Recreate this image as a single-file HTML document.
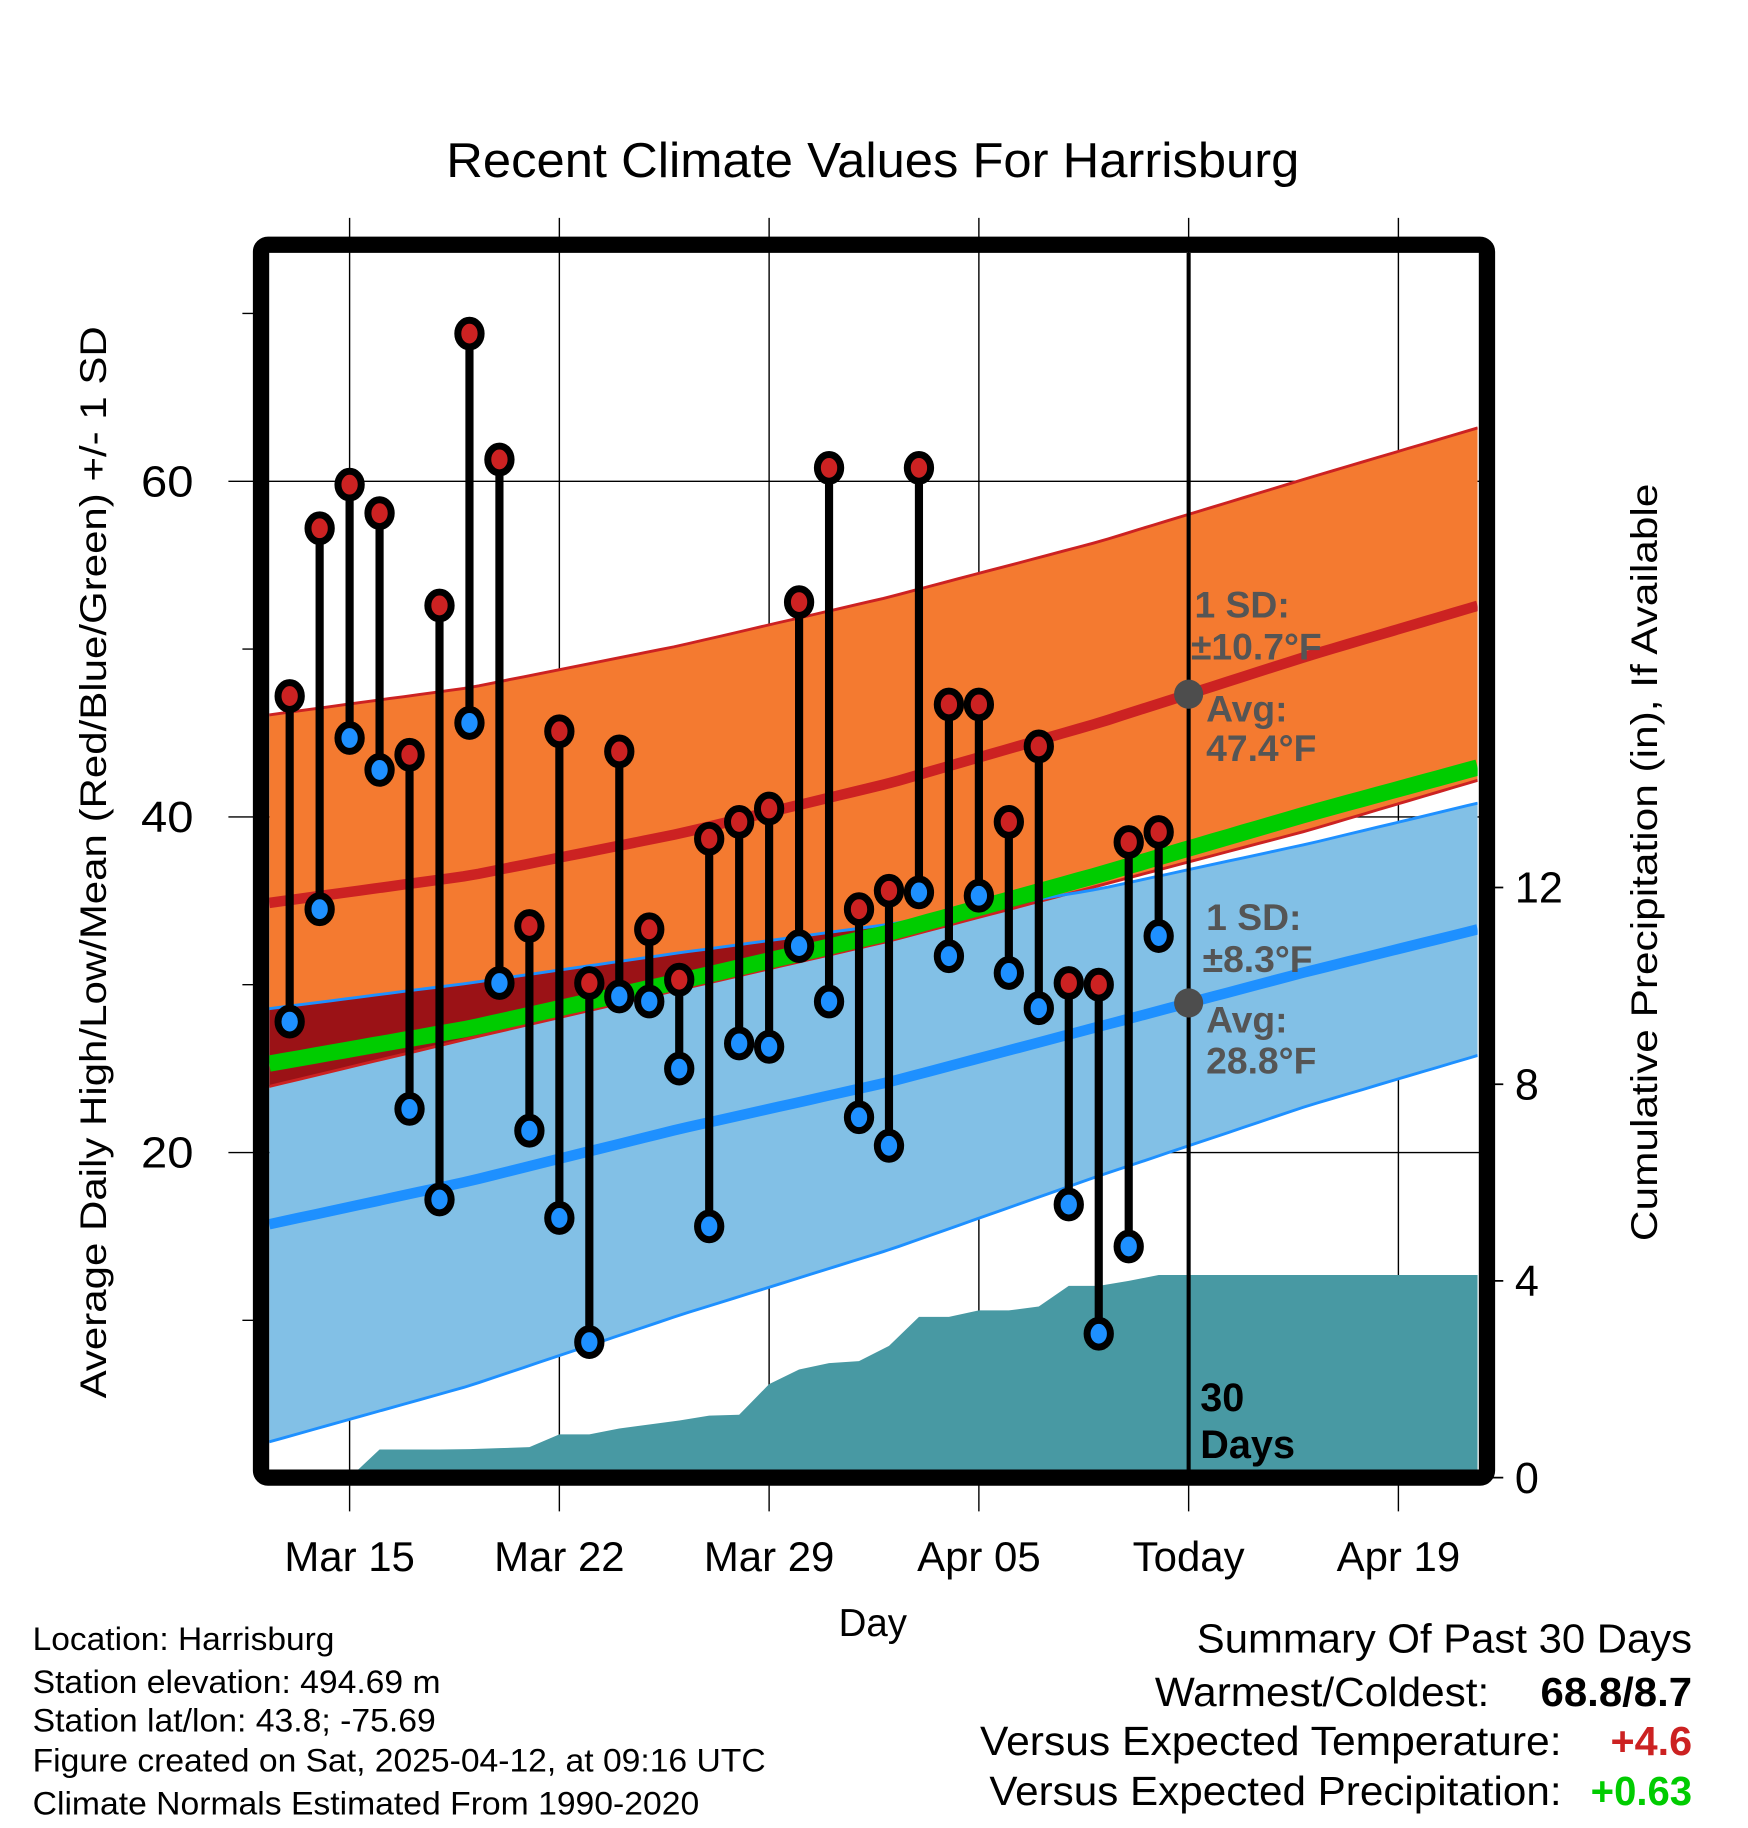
<!DOCTYPE html>
<html><head><meta charset="utf-8"><style>
html,body{margin:0;padding:0;background:#fff}
svg{display:block}
text{font-family:"Liberation Sans",sans-serif}
</style></head><body>
<svg id="chart" xmlns="http://www.w3.org/2000/svg" width="1748" height="1828" viewBox="0 0 1500 1568.65">
<rect x="0" y="0" width="1500" height="1568.65" fill="#fff"/>
<g id="layer"></g>
</svg>
<script>
// ---- data ----
const highs = [47.2,57.2,59.8,58.1,43.7,52.6,68.8,61.3,33.5,45.1,30.1,43.9,33.3,30.3,38.7,39.7,40.5,52.8,60.8,34.5,35.6,60.8,46.7,46.7,39.7,44.2,30.1,30.0,38.5,39.1];
const lows  = [27.8,34.5,44.7,42.8,22.6,17.2,45.6,30.1,21.3,16.1,8.7,29.3,29.0,25.0,15.6,26.5,26.3,32.3,29.0,22.1,20.4,35.5,31.7,35.3,30.7,28.6,16.9,9.2,14.4,32.9];
const precip = [0,0,0,0.57,0.57,0.57,0.58,0.60,0.62,0.88,0.88,1.00,1.08,1.16,1.26,1.28,1.90,2.20,2.33,2.37,2.68,3.27,3.27,3.40,3.40,3.48,3.90,3.90,4.00,4.12];
const normDays = [0,7,14,21,28,35,42];
const normHigh = [34.8,36.5,39.0,42.0,45.6,49.6,53.3];
const highUpper = [46.0,47.7,50.2,53.1,56.4,60.2,63.9];
const highLower = [23.8,26.8,29.7,32.6,35.9,39.2,42.9];
const normLow = [15.6,18.3,21.4,24.2,27.5,30.8,33.9];
const lowUpper = [28.5,30.1,31.9,33.6,35.7,38.4,41.4];
const lowLower = [2.6,6.1,10.3,14.2,18.6,22.8,26.5];
const xTickDays = [3,10,17,24,31,38];
const xTickLabels = ["Mar 15","Mar 22","Mar 29","Apr 05","Today","Apr 19"];
const yTicks = [20,40,60];
const yMinor = [10,30,50,70];
const pTicks = [0,4,8,12];
const firstDay = 1;   // Mar 13 = day 1 (Mar 12 = day 0)
const todayDay = 31;

// ---- axes ----
const X0=231,X1=1268,Y0=217,Y1=1261;
const xs = d => 300 + (d-3)*180/7;
const ys = v => 1277 - v*14.4;
const ps = v => 1268 - v*42.2;
const dMin=(X0-300)*7/180+3, dMax=(X1-300)*7/180+3;

const NS="http://www.w3.org/2000/svg";
const layer=document.getElementById('layer');
function mk(tag,attrs,parent){const e=document.createElementNS(NS,tag);for(const k in attrs)e.setAttribute(k,attrs[k]);(parent||layer).appendChild(e);return e;}
function interp(arr,d){for(let i=0;i<normDays.length-1;i++){if(d<=normDays[i+1]||i==normDays.length-2){const t=(d-normDays[i])/(normDays[i+1]-normDays[i]);return arr[i]+t*(arr[i+1]-arr[i]);}}}
const samples=[];for(let d=dMin;d<dMax;d+=0.5)samples.push(d);samples.push(dMax);
function line(fn){return samples.map((d,i)=>(i?'L':'M')+xs(d).toFixed(1)+','+ys(fn(d)).toFixed(1)).join('');}
function band(fu,fl){const top=samples.map((d,i)=>(i?'L':'M')+xs(d).toFixed(1)+','+ys(fu(d)).toFixed(1)).join('');const bot=samples.slice().reverse().map(d=>'L'+xs(d).toFixed(1)+','+ys(fl(d)).toFixed(1)).join('');return top+bot+'Z';}
const hU=d=>interp(highUpper,d), hL=d=>interp(highLower,d);
const lU=d=>interp(lowUpper,d), lL=d=>interp(lowLower,d);

// grid lines
xTickDays.forEach(d=>{const g=mk('line',{x1:xs(d),x2:xs(d),y1:187,y2:1297,stroke:'#000','stroke-width':1.2});

});
yTicks.forEach(v=>{const g=mk('line',{x1:196,x2:1276,y1:ys(v),y2:ys(v),stroke:'#000','stroke-width':1.2});

});
yMinor.forEach(v=>{const g=mk('line',{x1:208,x2:224,y1:ys(v),y2:ys(v),stroke:'#000','stroke-width':1.2});

});

// bands
const defs=mk('defs',{});
const cp=mk('clipPath',{id:'hiclip'},defs);mk('path',{d:band(hU,hL)},cp);
const cpPlot=mk('clipPath',{id:'plotclip'},defs);mk('rect',{x:X0,y:Y0,width:X1-X0,height:Y1-Y0},cpPlot);
const plot=mk('g',{'clip-path':'url(#plotclip)'});


let e=mk('path',{d:band(hU,hL),fill:'#f47a30'},plot);


e=mk('path',{d:band(lU,lL),fill:'#82c0e6'},plot);


e=mk('path',{d:band(lU,lL),fill:'#9b1216','clip-path':'url(#hiclip)'},plot);


// precip area
let pd='M'+X0+','+ps(0)+'L'+xs(3)+','+ps(0);
precip.forEach((v,i)=>{const d=firstDay+i;if(d>=3)pd+='L'+xs(d).toFixed(1)+','+ps(v).toFixed(1);});
pd+='L'+X1+','+ps(precip[precip.length-1]).toFixed(1)+'L'+X1+','+ps(0)+'Z';
e=mk('path',{d:pd,fill:'#4899a3'},plot);


// edges
[[hU,'#cc2222',2.5,'high-sd-upper'],[hL,'#cc2222',2.5,'high-sd-lower'],[lU,'#1e90ff',2.5,'low-sd-upper'],[lL,'#1e90ff',2.5,'low-sd-lower'],
 [d=>interp(normHigh,d),'#cc2222',9,'high-avg-line'],[d=>interp(normLow,d),'#1e90ff',9,'low-avg-line'],
 [d=>(interp(normHigh,d)+interp(normLow,d))/2,'#00cc00',14,'mean-avg-line']].forEach(a=>{
 const l=mk('path',{d:line(a[0]),fill:'none',stroke:a[1],'stroke-width':a[2]},plot);
 
 });
// today line
e=mk('line',{x1:xs(todayDay),x2:xs(todayDay),y1:Y0,y2:Y1,stroke:'#000','stroke-width':3.5},plot);


// stems & points
highs.forEach((h,i)=>{const x=xs(firstDay+i);
 const s=mk('line',{x1:x,x2:x,y1:ys(h),y2:ys(lows[i]),stroke:'#000','stroke-width':7},plot);
 
 });
highs.forEach((h,i)=>{const x=xs(firstDay+i);
 const c1=mk('ellipse',{cx:x,cy:ys(h),rx:10,ry:11.5,fill:'#cc2222',stroke:'#000','stroke-width':6},plot);
 
 
 const c2=mk('ellipse',{cx:x,cy:ys(lows[i]),rx:10,ry:11.5,fill:'#1e90ff',stroke:'#000','stroke-width':6},plot);
 
 });
// today markers
e=mk('circle',{cx:xs(todayDay),cy:ys(interp(normHigh,todayDay)),r:12.5,fill:'#4d4d4d'});


e=mk('circle',{cx:xs(todayDay),cy:ys(interp(normLow,todayDay)),r:12.5,fill:'#4d4d4d'});



// frame
e=mk('rect',{x:224,y:210,width:1052,height:1058,rx:6,fill:'none',stroke:'#000','stroke-width':14});


// right ticks
pTicks.forEach(v=>{const t=mk('line',{x1:1276,x2:1290,y1:ps(v),y2:ps(v),stroke:'#000','stroke-width':1.5});
 
 
 const l=mk('text',{x:1300,y:ps(v)+13,'font-size':37});l.textContent=v;
 
 });
yTicks.forEach(v=>{const l=mk('text',{x:166,y:ys(v)+13,'font-size':37,'text-anchor':'end',textLength:45,lengthAdjust:'spacingAndGlyphs'});l.textContent=v;
 
 });
xTickDays.forEach((d,i)=>{const l=mk('text',{x:xs(d),y:1348,'font-size':36,'text-anchor':'middle'});l.textContent=xTickLabels[i];
 
 });
</script>
<svg style="position:absolute;left:0;top:0" width="1748" height="1828" viewBox="0 0 1500 1568.65">
<g font-family="Liberation Sans, sans-serif">
<text x="749" y="152" font-size="42" text-anchor="middle" textLength="732" lengthAdjust="spacingAndGlyphs">Recent Climate Values For Harrisburg</text>
<text x="749" y="1404" font-size="33" text-anchor="middle">Day</text>
<text transform="translate(91,740) rotate(-90)" font-size="32" text-anchor="middle" textLength="920" lengthAdjust="spacingAndGlyphs">Average Daily High/Low/Mean (Red/Blue/Green) +/- 1 SD</text>
<text transform="translate(1422,740) rotate(-90)" font-size="32" text-anchor="middle" textLength="650" lengthAdjust="spacingAndGlyphs">Cumulative Precipitation (in), If Available</text>
<g fill="#555" font-weight="bold" font-size="32">
<text x="1025" y="530">1 SD:</text>
<text x="1022" y="566">±10.7°F</text>
<text x="1035" y="619">Avg:</text>
<text x="1035" y="653">47.4°F</text>
</g>
<g fill="#555" font-weight="bold" font-size="32">
<text x="1035" y="798">1 SD:</text>
<text x="1032" y="834">±8.3°F</text>
<text x="1035" y="886">Avg:</text>
<text x="1035" y="921">28.8°F</text>
</g>
<g font-weight="bold" font-size="34">
<text x="1030" y="1211">30</text>
<text x="1030" y="1251">Days</text>
</g>
<g font-size="28">
<text x="28" y="1416" textLength="259" lengthAdjust="spacingAndGlyphs">Location: Harrisburg</text>
<text x="28" y="1453" textLength="350" lengthAdjust="spacingAndGlyphs">Station elevation: 494.69 m</text>
<text x="28" y="1486" textLength="346" lengthAdjust="spacingAndGlyphs">Station lat/lon: 43.8; -75.69</text>
<text x="28" y="1520" textLength="629" lengthAdjust="spacingAndGlyphs">Figure created on Sat, 2025-04-12, at 09:16 UTC</text>
<text x="28" y="1557" textLength="572" lengthAdjust="spacingAndGlyphs">Climate Normals Estimated From 1990-2020</text>
</g>
<g font-size="35">
<text x="1027" y="1418" textLength="425" lengthAdjust="spacingAndGlyphs">Summary Of Past 30 Days</text>
<text x="991" y="1464" textLength="287" lengthAdjust="spacingAndGlyphs">Warmest/Coldest:</text>
<text x="1322" y="1464" font-weight="bold" textLength="130" lengthAdjust="spacingAndGlyphs">68.8/8.7</text>
<text x="841" y="1506" textLength="499" lengthAdjust="spacingAndGlyphs">Versus Expected Temperature:</text>
<text x="1382" y="1506" font-weight="bold" fill="#cc2222" textLength="70" lengthAdjust="spacingAndGlyphs">+4.6</text>
<text x="849" y="1549" textLength="491" lengthAdjust="spacingAndGlyphs">Versus Expected Precipitation:</text>
<text x="1365" y="1549" font-weight="bold" fill="#00cc00" textLength="87" lengthAdjust="spacingAndGlyphs">+0.63</text>
</g>
</g>
</svg>
</body></html>
